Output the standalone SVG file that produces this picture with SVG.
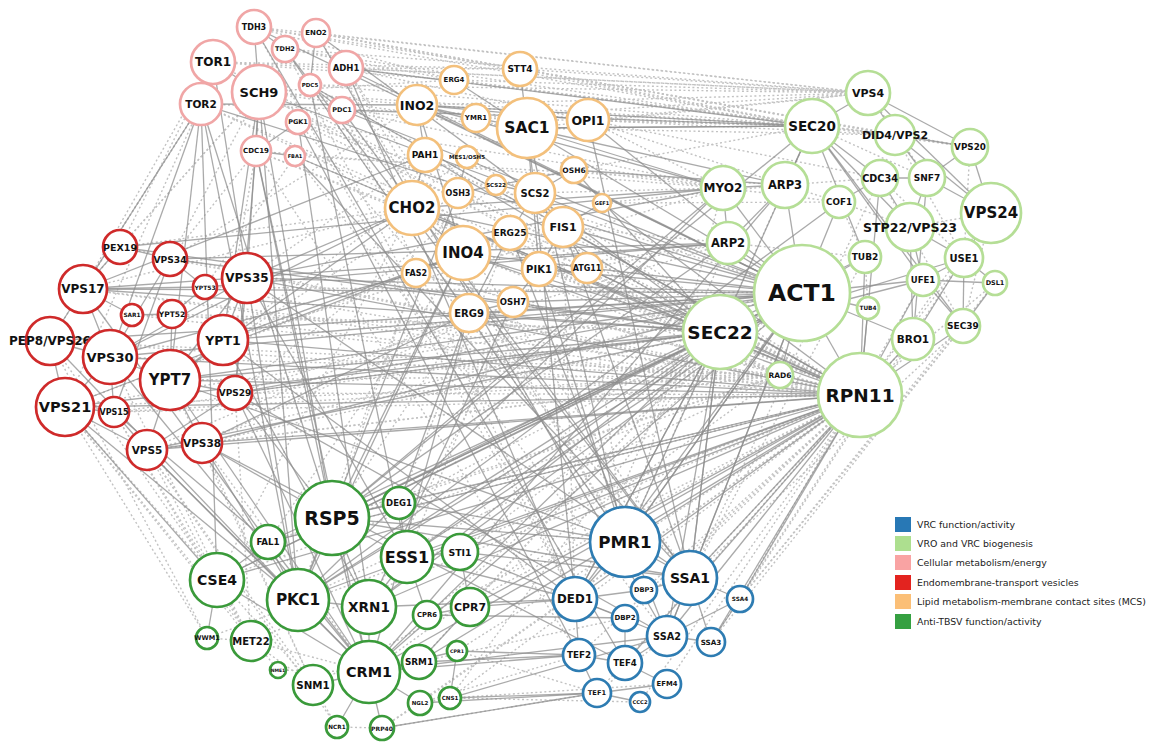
<svg xmlns="http://www.w3.org/2000/svg" width="1156" height="747" viewBox="0 0 1156 747">
<style>
.bg{fill:#fff}
.nodes circle{fill:#fff;stroke-width:2.7}
.pk circle{stroke:#f0a6a6}
.or circle{stroke:#f3c07c}
.lg circle{stroke:#b5de96}
.rd circle{stroke:#cf2a2a}
.gn circle{stroke:#3a9a3a}
.bl circle{stroke:#2e7cb2}
.nodes text{font-family:"DejaVu Sans",Verdana,sans-serif;font-weight:bold;fill:#111;text-anchor:middle;dominant-baseline:central}
.s line{stroke:#8e8e8e;stroke-width:1.3;stroke-opacity:.75}
.d line{stroke:#c2c2c2;stroke-width:1.4;stroke-dasharray:2 2.5}
.legend text{font-family:"DejaVu Sans",Verdana,sans-serif;font-size:9.4px;fill:#222;dominant-baseline:central}
</style>
<rect class="bg" width="1156" height="747"/>
<g id="connectors">
<g class="d">
<line x1="254" y1="27" x2="868" y2="93"/><line x1="316" y1="33" x2="868" y2="93"/><line x1="316" y1="33" x2="812" y2="126"/><line x1="285" y1="49" x2="812" y2="126"/><line x1="346" y1="68" x2="868" y2="93"/><line x1="346" y1="68" x2="895" y2="135"/><line x1="310" y1="85" x2="812" y2="126"/><line x1="342" y1="110" x2="723" y2="188"/><line x1="454" y1="80" x2="868" y2="93"/><line x1="520" y1="69" x2="868" y2="93"/><line x1="520" y1="69" x2="812" y2="126"/><line x1="520" y1="69" x2="895" y2="135"/><line x1="417" y1="105" x2="812" y2="126"/><line x1="588" y1="120" x2="812" y2="126"/><line x1="588" y1="120" x2="868" y2="93"/><line x1="476" y1="118" x2="868" y2="93"/><line x1="527" y1="128" x2="868" y2="93"/><line x1="527" y1="128" x2="895" y2="135"/><line x1="213" y1="62" x2="868" y2="93"/><line x1="254" y1="27" x2="812" y2="126"/><line x1="454" y1="80" x2="895" y2="135"/><line x1="316" y1="33" x2="895" y2="135"/><line x1="254" y1="27" x2="520" y2="69"/><line x1="213" y1="62" x2="520" y2="69"/><line x1="316" y1="33" x2="520" y2="69"/><line x1="285" y1="49" x2="454" y2="80"/><line x1="346" y1="68" x2="588" y2="120"/><line x1="213" y1="62" x2="454" y2="80"/><line x1="254" y1="27" x2="454" y2="80"/><line x1="346" y1="68" x2="520" y2="69"/><line x1="259" y1="92" x2="417" y2="105"/><line x1="259" y1="92" x2="527" y2="128"/><line x1="342" y1="110" x2="527" y2="128"/><line x1="520" y1="69" x2="970" y2="147"/><line x1="588" y1="120" x2="880" y2="178"/><line x1="588" y1="120" x2="895" y2="135"/><line x1="454" y1="80" x2="812" y2="126"/><line x1="476" y1="118" x2="812" y2="126"/><line x1="417" y1="105" x2="868" y2="93"/><line x1="285" y1="49" x2="868" y2="93"/><line x1="310" y1="85" x2="868" y2="93"/><line x1="259" y1="92" x2="812" y2="126"/><line x1="201" y1="104" x2="812" y2="126"/><line x1="298" y1="122" x2="723" y2="188"/><line x1="295" y1="156" x2="785" y2="185"/><line x1="256" y1="151" x2="723" y2="188"/><line x1="574" y1="170" x2="812" y2="126"/><line x1="574" y1="170" x2="723" y2="188"/><line x1="602" y1="203" x2="839" y2="202"/><line x1="602" y1="203" x2="785" y2="185"/><line x1="587" y1="268" x2="728" y2="243"/><line x1="563" y1="227" x2="728" y2="243"/><line x1="539" y1="269" x2="728" y2="243"/><line x1="535" y1="193" x2="723" y2="188"/><line x1="588" y1="120" x2="723" y2="188"/><line x1="588" y1="120" x2="785" y2="185"/>
<line x1="720" y1="332" x2="201" y2="104"/><line x1="720" y1="332" x2="256" y2="151"/><line x1="802" y1="293" x2="298" y2="122"/><line x1="860" y1="395" x2="213" y2="62"/><line x1="860" y1="395" x2="310" y2="85"/><line x1="860" y1="395" x2="295" y2="156"/><line x1="720" y1="332" x2="235" y2="393"/><line x1="860" y1="395" x2="114" y2="412"/><line x1="802" y1="293" x2="65" y2="407"/><line x1="720" y1="332" x2="132" y2="315"/><line x1="720" y1="332" x2="172" y2="314"/><line x1="802" y1="293" x2="205" y2="287"/><line x1="780" y1="375" x2="170" y2="380"/><line x1="780" y1="375" x2="110" y2="357"/><line x1="780" y1="375" x2="65" y2="407"/><line x1="780" y1="375" x2="83" y2="289"/><line x1="780" y1="375" x2="50" y2="341"/><line x1="780" y1="375" x2="202" y2="443"/><line x1="780" y1="375" x2="147" y2="450"/><line x1="780" y1="375" x2="114" y2="412"/><line x1="780" y1="375" x2="332" y2="518"/><line x1="780" y1="375" x2="298" y2="600"/><line x1="780" y1="375" x2="217" y2="580"/><line x1="780" y1="375" x2="268" y2="542"/><line x1="780" y1="375" x2="369" y2="672"/><line x1="780" y1="375" x2="259" y2="92"/><line x1="780" y1="375" x2="201" y2="104"/><line x1="780" y1="375" x2="412" y2="208"/><line x1="780" y1="375" x2="463" y2="253"/><line x1="780" y1="375" x2="416" y2="273"/><line x1="860" y1="395" x2="416" y2="273"/><line x1="860" y1="395" x2="458" y2="193"/><line x1="860" y1="395" x2="425" y2="155"/><line x1="860" y1="395" x2="467" y2="157"/><line x1="860" y1="395" x2="496" y2="185"/><line x1="860" y1="395" x2="510" y2="233"/><line x1="860" y1="395" x2="539" y2="269"/><line x1="860" y1="395" x2="513" y2="302"/><line x1="860" y1="395" x2="469" y2="313"/><line x1="860" y1="395" x2="256" y2="151"/><line x1="860" y1="395" x2="298" y2="122"/><line x1="860" y1="395" x2="259" y2="92"/><line x1="860" y1="395" x2="83" y2="289"/><line x1="860" y1="395" x2="50" y2="341"/><line x1="860" y1="395" x2="170" y2="259"/><line x1="860" y1="395" x2="120" y2="247"/><line x1="860" y1="395" x2="132" y2="315"/><line x1="860" y1="395" x2="172" y2="314"/><line x1="860" y1="395" x2="205" y2="287"/><line x1="860" y1="395" x2="235" y2="393"/><line x1="860" y1="395" x2="268" y2="542"/><line x1="860" y1="395" x2="251" y2="641"/><line x1="860" y1="395" x2="207" y2="638"/><line x1="860" y1="395" x2="313" y2="685"/><line x1="860" y1="395" x2="399" y2="503"/><line x1="860" y1="395" x2="427" y2="615"/><line x1="860" y1="395" x2="457" y2="651"/><line x1="860" y1="395" x2="450" y2="698"/><line x1="860" y1="395" x2="420" y2="703"/><line x1="860" y1="395" x2="382" y2="728"/><line x1="860" y1="395" x2="597" y2="693"/><line x1="860" y1="395" x2="579" y2="655"/><line x1="860" y1="395" x2="667" y2="684"/><line x1="860" y1="395" x2="640" y2="702"/><line x1="860" y1="395" x2="625" y2="618"/><line x1="860" y1="395" x2="644" y2="590"/>
<line x1="802" y1="293" x2="399" y2="503"/><line x1="802" y1="293" x2="460" y2="552"/><line x1="720" y1="332" x2="419" y2="662"/><line x1="720" y1="332" x2="470" y2="607"/><line x1="720" y1="332" x2="450" y2="698"/><line x1="802" y1="293" x2="427" y2="615"/><line x1="728" y1="243" x2="575" y2="599"/><line x1="723" y1="188" x2="625" y2="542"/><line x1="865" y1="257" x2="690" y2="578"/><line x1="812" y1="126" x2="625" y2="542"/><line x1="880" y1="178" x2="690" y2="578"/><line x1="720" y1="332" x2="202" y2="443"/><line x1="720" y1="332" x2="114" y2="412"/><line x1="802" y1="293" x2="147" y2="450"/><line x1="728" y1="243" x2="235" y2="393"/><line x1="723" y1="188" x2="223" y2="340"/>
<line x1="50" y1="341" x2="217" y2="580"/><line x1="65" y1="407" x2="207" y2="638"/><line x1="65" y1="407" x2="251" y2="641"/><line x1="114" y1="412" x2="217" y2="580"/><line x1="147" y1="450" x2="251" y2="641"/><line x1="147" y1="450" x2="313" y2="685"/><line x1="202" y1="443" x2="369" y2="672"/><line x1="201" y1="104" x2="65" y2="407"/><line x1="201" y1="104" x2="83" y2="289"/><line x1="213" y1="62" x2="120" y2="247"/><line x1="259" y1="92" x2="170" y2="259"/><line x1="256" y1="151" x2="223" y2="340"/><line x1="201" y1="104" x2="50" y2="341"/><line x1="65" y1="407" x2="278" y2="670"/><line x1="147" y1="450" x2="337" y2="727"/><line x1="65" y1="407" x2="313" y2="685"/><line x1="50" y1="341" x2="207" y2="638"/><line x1="114" y1="412" x2="251" y2="641"/><line x1="110" y1="357" x2="251" y2="641"/><line x1="170" y1="380" x2="313" y2="685"/><line x1="202" y1="443" x2="313" y2="685"/><line x1="235" y1="393" x2="251" y2="641"/><line x1="213" y1="62" x2="83" y2="289"/><line x1="259" y1="92" x2="120" y2="247"/><line x1="259" y1="92" x2="83" y2="289"/><line x1="256" y1="151" x2="170" y2="259"/><line x1="295" y1="156" x2="205" y2="287"/>
<line x1="251" y1="641" x2="313" y2="685"/><line x1="278" y1="670" x2="369" y2="672"/><line x1="337" y1="727" x2="313" y2="685"/><line x1="382" y1="728" x2="420" y2="703"/><line x1="207" y1="638" x2="251" y2="641"/><line x1="251" y1="641" x2="369" y2="672"/><line x1="420" y1="703" x2="450" y2="698"/><line x1="382" y1="728" x2="597" y2="693"/><line x1="337" y1="727" x2="382" y2="728"/><line x1="450" y1="698" x2="640" y2="702"/><line x1="457" y1="651" x2="597" y2="693"/><line x1="419" y1="662" x2="625" y2="618"/><line x1="420" y1="703" x2="579" y2="655"/><line x1="450" y1="698" x2="667" y2="684"/><line x1="597" y1="693" x2="667" y2="636"/>
<line x1="963" y1="326" x2="740" y2="599"/><line x1="913" y1="339" x2="740" y2="599"/><line x1="964" y1="258" x2="711" y2="642"/><line x1="995" y1="283" x2="740" y2="599"/><line x1="963" y1="326" x2="711" y2="642"/><line x1="913" y1="339" x2="690" y2="578"/><line x1="923" y1="280" x2="740" y2="599"/><line x1="963" y1="326" x2="690" y2="578"/><line x1="991" y1="213" x2="860" y2="395"/><line x1="991" y1="213" x2="963" y2="326"/><line x1="964" y1="258" x2="860" y2="395"/><line x1="995" y1="283" x2="860" y2="395"/><line x1="970" y1="147" x2="964" y2="258"/><line x1="895" y1="135" x2="964" y2="258"/><line x1="868" y1="93" x2="927" y2="178"/><line x1="812" y1="126" x2="927" y2="178"/><line x1="812" y1="126" x2="895" y2="135"/><line x1="812" y1="126" x2="970" y2="147"/><line x1="785" y1="185" x2="880" y2="178"/><line x1="785" y1="185" x2="839" y2="202"/><line x1="723" y1="188" x2="839" y2="202"/><line x1="728" y1="243" x2="865" y2="257"/><line x1="839" y1="202" x2="865" y2="257"/><line x1="865" y1="257" x2="868" y2="308"/><line x1="880" y1="178" x2="964" y2="258"/><line x1="839" y1="202" x2="910" y2="227"/><line x1="910" y1="227" x2="991" y2="213"/><line x1="880" y1="178" x2="963" y2="326"/>
<line x1="310" y1="85" x2="625" y2="542"/><line x1="342" y1="110" x2="575" y2="599"/><line x1="298" y1="122" x2="690" y2="578"/><line x1="295" y1="156" x2="667" y2="636"/><line x1="256" y1="151" x2="579" y2="655"/><line x1="316" y1="33" x2="625" y2="542"/><line x1="346" y1="68" x2="625" y2="542"/><line x1="285" y1="49" x2="575" y2="599"/><line x1="254" y1="27" x2="575" y2="599"/><line x1="346" y1="68" x2="690" y2="578"/>
<line x1="412" y1="208" x2="217" y2="580"/><line x1="463" y1="253" x2="268" y2="542"/><line x1="416" y1="273" x2="298" y2="600"/><line x1="416" y1="273" x2="332" y2="518"/><line x1="469" y1="313" x2="332" y2="518"/><line x1="513" y1="302" x2="407" y2="557"/><line x1="539" y1="269" x2="369" y2="607"/><line x1="587" y1="268" x2="625" y2="542"/><line x1="510" y1="233" x2="399" y2="503"/><line x1="563" y1="227" x2="575" y2="599"/><line x1="458" y1="193" x2="170" y2="380"/><line x1="425" y1="155" x2="247" y2="278"/><line x1="467" y1="157" x2="223" y2="340"/><line x1="496" y1="185" x2="235" y2="393"/><line x1="417" y1="105" x2="170" y2="259"/><line x1="454" y1="80" x2="259" y2="92"/><line x1="412" y1="208" x2="120" y2="247"/><line x1="412" y1="208" x2="83" y2="289"/><line x1="416" y1="273" x2="65" y2="407"/><line x1="469" y1="313" x2="147" y2="450"/><line x1="513" y1="302" x2="202" y2="443"/>
</g>
<g class="s">
<line x1="860" y1="395" x2="170" y2="380"/><line x1="860" y1="395" x2="110" y2="357"/><line x1="860" y1="395" x2="65" y2="407"/><line x1="860" y1="395" x2="147" y2="450"/><line x1="860" y1="395" x2="202" y2="443"/><line x1="860" y1="395" x2="332" y2="518"/><line x1="860" y1="395" x2="298" y2="600"/><line x1="860" y1="395" x2="369" y2="672"/><line x1="860" y1="395" x2="369" y2="607"/><line x1="860" y1="395" x2="407" y2="557"/><line x1="860" y1="395" x2="470" y2="607"/><line x1="860" y1="395" x2="460" y2="552"/><line x1="860" y1="395" x2="625" y2="542"/><line x1="860" y1="395" x2="690" y2="578"/><line x1="860" y1="395" x2="667" y2="636"/><line x1="860" y1="395" x2="740" y2="599"/><line x1="860" y1="395" x2="575" y2="599"/><line x1="860" y1="395" x2="625" y2="663"/><line x1="860" y1="395" x2="412" y2="208"/><line x1="860" y1="395" x2="463" y2="253"/><line x1="860" y1="395" x2="563" y2="227"/><line x1="860" y1="395" x2="247" y2="278"/><line x1="860" y1="395" x2="223" y2="340"/><line x1="860" y1="395" x2="217" y2="580"/><line x1="860" y1="395" x2="419" y2="662"/><line x1="860" y1="395" x2="268" y2="542"/>
<line x1="802" y1="293" x2="170" y2="380"/><line x1="802" y1="293" x2="110" y2="357"/><line x1="802" y1="293" x2="83" y2="289"/><line x1="802" y1="293" x2="50" y2="341"/><line x1="802" y1="293" x2="247" y2="278"/><line x1="802" y1="293" x2="223" y2="340"/><line x1="802" y1="293" x2="332" y2="518"/><line x1="802" y1="293" x2="298" y2="600"/><line x1="802" y1="293" x2="217" y2="580"/><line x1="802" y1="293" x2="369" y2="672"/><line x1="802" y1="293" x2="625" y2="542"/><line x1="802" y1="293" x2="575" y2="599"/><line x1="802" y1="293" x2="690" y2="578"/><line x1="802" y1="293" x2="527" y2="128"/><line x1="802" y1="293" x2="412" y2="208"/><line x1="802" y1="293" x2="463" y2="253"/><line x1="802" y1="293" x2="417" y2="105"/><line x1="802" y1="293" x2="588" y2="120"/><line x1="802" y1="293" x2="563" y2="227"/><line x1="802" y1="293" x2="469" y2="313"/><line x1="802" y1="293" x2="513" y2="302"/><line x1="802" y1="293" x2="201" y2="104"/><line x1="802" y1="293" x2="259" y2="92"/><line x1="802" y1="293" x2="723" y2="188"/><line x1="802" y1="293" x2="728" y2="243"/><line x1="802" y1="293" x2="785" y2="185"/><line x1="802" y1="293" x2="839" y2="202"/><line x1="802" y1="293" x2="865" y2="257"/><line x1="802" y1="293" x2="923" y2="280"/><line x1="802" y1="293" x2="868" y2="308"/><line x1="802" y1="293" x2="720" y2="332"/><line x1="802" y1="293" x2="780" y2="375"/><line x1="802" y1="293" x2="539" y2="269"/><line x1="802" y1="293" x2="235" y2="393"/><line x1="802" y1="293" x2="860" y2="395"/><line x1="802" y1="293" x2="913" y2="339"/><line x1="802" y1="293" x2="202" y2="443"/><line x1="802" y1="293" x2="369" y2="607"/><line x1="802" y1="293" x2="407" y2="557"/>
<line x1="720" y1="332" x2="83" y2="289"/><line x1="720" y1="332" x2="120" y2="247"/><line x1="720" y1="332" x2="170" y2="259"/><line x1="720" y1="332" x2="65" y2="407"/><line x1="720" y1="332" x2="170" y2="380"/><line x1="720" y1="332" x2="332" y2="518"/><line x1="720" y1="332" x2="298" y2="600"/><line x1="720" y1="332" x2="268" y2="542"/><line x1="720" y1="332" x2="217" y2="580"/><line x1="720" y1="332" x2="369" y2="607"/><line x1="720" y1="332" x2="407" y2="557"/><line x1="720" y1="332" x2="625" y2="542"/><line x1="720" y1="332" x2="575" y2="599"/><line x1="720" y1="332" x2="463" y2="253"/><line x1="720" y1="332" x2="412" y2="208"/><line x1="720" y1="332" x2="425" y2="155"/><line x1="720" y1="332" x2="812" y2="126"/><line x1="720" y1="332" x2="923" y2="280"/><line x1="720" y1="332" x2="964" y2="258"/><line x1="720" y1="332" x2="469" y2="313"/><line x1="720" y1="332" x2="667" y2="636"/><line x1="720" y1="332" x2="147" y2="450"/><line x1="720" y1="332" x2="860" y2="395"/><line x1="720" y1="332" x2="690" y2="578"/><line x1="720" y1="332" x2="369" y2="672"/><line x1="720" y1="332" x2="235" y2="393"/>
<line x1="723" y1="188" x2="120" y2="247"/><line x1="723" y1="188" x2="247" y2="278"/><line x1="723" y1="188" x2="527" y2="128"/><line x1="723" y1="188" x2="417" y2="105"/><line x1="723" y1="188" x2="785" y2="185"/><line x1="723" y1="188" x2="728" y2="243"/><line x1="723" y1="188" x2="412" y2="208"/><line x1="723" y1="188" x2="332" y2="518"/><line x1="723" y1="188" x2="298" y2="600"/><line x1="728" y1="243" x2="170" y2="259"/><line x1="728" y1="243" x2="205" y2="287"/><line x1="728" y1="243" x2="785" y2="185"/><line x1="728" y1="243" x2="83" y2="289"/><line x1="728" y1="243" x2="332" y2="518"/><line x1="785" y1="185" x2="812" y2="126"/><line x1="785" y1="185" x2="527" y2="128"/><line x1="785" y1="185" x2="369" y2="672"/><line x1="839" y1="202" x2="298" y2="600"/><line x1="865" y1="257" x2="332" y2="518"/>
<line x1="812" y1="126" x2="342" y2="110"/><line x1="812" y1="126" x2="880" y2="178"/><line x1="812" y1="126" x2="923" y2="280"/><line x1="812" y1="126" x2="527" y2="128"/><line x1="812" y1="126" x2="417" y2="105"/><line x1="812" y1="126" x2="868" y2="93"/><line x1="812" y1="126" x2="865" y2="257"/><line x1="812" y1="126" x2="963" y2="326"/><line x1="812" y1="126" x2="910" y2="227"/><line x1="812" y1="126" x2="332" y2="518"/><line x1="839" y1="202" x2="880" y2="178"/>
<line x1="868" y1="93" x2="895" y2="135"/><line x1="868" y1="93" x2="991" y2="213"/><line x1="868" y1="93" x2="970" y2="147"/><line x1="895" y1="135" x2="970" y2="147"/><line x1="895" y1="135" x2="927" y2="178"/><line x1="895" y1="135" x2="991" y2="213"/><line x1="970" y1="147" x2="991" y2="213"/><line x1="970" y1="147" x2="927" y2="178"/><line x1="927" y1="178" x2="991" y2="213"/><line x1="927" y1="178" x2="910" y2="227"/><line x1="927" y1="178" x2="880" y2="178"/><line x1="880" y1="178" x2="910" y2="227"/><line x1="910" y1="227" x2="964" y2="258"/><line x1="910" y1="227" x2="923" y2="280"/><line x1="964" y1="258" x2="995" y2="283"/><line x1="923" y1="280" x2="995" y2="283"/><line x1="923" y1="280" x2="963" y2="326"/><line x1="964" y1="258" x2="963" y2="326"/><line x1="995" y1="283" x2="963" y2="326"/><line x1="923" y1="280" x2="964" y2="258"/><line x1="913" y1="339" x2="927" y2="178"/><line x1="913" y1="339" x2="860" y2="395"/><line x1="910" y1="227" x2="913" y2="339"/><line x1="991" y1="213" x2="913" y2="339"/><line x1="880" y1="178" x2="860" y2="395"/><line x1="865" y1="257" x2="860" y2="395"/><line x1="868" y1="308" x2="860" y2="395"/><line x1="780" y1="375" x2="860" y2="395"/><line x1="923" y1="280" x2="860" y2="395"/><line x1="963" y1="326" x2="860" y2="395"/>
<line x1="201" y1="104" x2="298" y2="600"/><line x1="201" y1="104" x2="332" y2="518"/><line x1="201" y1="104" x2="217" y2="580"/><line x1="213" y1="62" x2="298" y2="600"/><line x1="213" y1="62" x2="201" y2="104"/><line x1="213" y1="62" x2="259" y2="92"/><line x1="259" y1="92" x2="298" y2="600"/><line x1="259" y1="92" x2="332" y2="518"/><line x1="259" y1="92" x2="254" y2="27"/><line x1="259" y1="92" x2="256" y2="151"/><line x1="256" y1="151" x2="332" y2="518"/><line x1="256" y1="151" x2="369" y2="672"/><line x1="298" y1="122" x2="369" y2="607"/><line x1="298" y1="122" x2="256" y2="151"/><line x1="310" y1="85" x2="407" y2="557"/><line x1="310" y1="85" x2="342" y2="110"/><line x1="316" y1="33" x2="310" y2="85"/><line x1="342" y1="110" x2="690" y2="578"/><line x1="295" y1="156" x2="690" y2="578"/><line x1="295" y1="156" x2="256" y2="151"/><line x1="316" y1="33" x2="667" y2="636"/><line x1="254" y1="27" x2="625" y2="663"/><line x1="346" y1="68" x2="575" y2="599"/><line x1="285" y1="49" x2="625" y2="542"/><line x1="254" y1="27" x2="285" y2="49"/><line x1="201" y1="104" x2="83" y2="289"/><line x1="201" y1="104" x2="110" y2="357"/><line x1="259" y1="92" x2="247" y2="278"/><line x1="259" y1="92" x2="223" y2="340"/><line x1="256" y1="151" x2="235" y2="393"/><line x1="201" y1="104" x2="170" y2="380"/><line x1="298" y1="122" x2="579" y2="655"/><line x1="346" y1="68" x2="812" y2="126"/><line x1="346" y1="68" x2="802" y2="293"/><line x1="342" y1="110" x2="802" y2="293"/><line x1="310" y1="85" x2="860" y2="395"/><line x1="285" y1="49" x2="690" y2="578"/><line x1="316" y1="33" x2="720" y2="332"/><line x1="295" y1="156" x2="860" y2="395"/><line x1="254" y1="27" x2="802" y2="293"/>
<line x1="527" y1="128" x2="520" y2="69"/><line x1="527" y1="128" x2="476" y2="118"/><line x1="527" y1="128" x2="535" y2="193"/><line x1="535" y1="193" x2="574" y2="170"/><line x1="535" y1="193" x2="496" y2="185"/><line x1="535" y1="193" x2="563" y2="227"/><line x1="412" y1="208" x2="463" y2="253"/><line x1="417" y1="105" x2="463" y2="253"/><line x1="417" y1="105" x2="425" y2="155"/><line x1="588" y1="120" x2="417" y2="105"/><line x1="469" y1="313" x2="513" y2="302"/><line x1="510" y1="233" x2="469" y2="313"/><line x1="539" y1="269" x2="563" y2="227"/><line x1="563" y1="227" x2="587" y2="268"/><line x1="539" y1="269" x2="527" y2="128"/><line x1="458" y1="193" x2="574" y2="170"/><line x1="425" y1="155" x2="412" y2="208"/><line x1="454" y1="80" x2="527" y2="128"/><line x1="476" y1="118" x2="417" y2="105"/><line x1="467" y1="157" x2="458" y2="193"/><line x1="416" y1="273" x2="463" y2="253"/><line x1="513" y1="302" x2="539" y2="269"/><line x1="510" y1="233" x2="535" y2="193"/><line x1="602" y1="203" x2="563" y2="227"/>
<line x1="412" y1="208" x2="247" y2="278"/><line x1="412" y1="208" x2="170" y2="380"/><line x1="463" y1="253" x2="332" y2="518"/><line x1="463" y1="253" x2="298" y2="600"/><line x1="416" y1="273" x2="110" y2="357"/><line x1="469" y1="313" x2="369" y2="672"/><line x1="513" y1="302" x2="369" y2="607"/><line x1="425" y1="155" x2="83" y2="289"/><line x1="527" y1="128" x2="625" y2="542"/><line x1="588" y1="120" x2="690" y2="578"/><line x1="535" y1="193" x2="575" y2="599"/><line x1="563" y1="227" x2="690" y2="578"/><line x1="587" y1="268" x2="720" y2="332"/><line x1="602" y1="203" x2="860" y2="395"/><line x1="574" y1="170" x2="785" y2="185"/><line x1="527" y1="128" x2="812" y2="126"/><line x1="469" y1="313" x2="202" y2="443"/><line x1="463" y1="253" x2="223" y2="340"/><line x1="412" y1="208" x2="110" y2="357"/><line x1="539" y1="269" x2="625" y2="542"/><line x1="587" y1="268" x2="860" y2="395"/><line x1="574" y1="170" x2="720" y2="332"/><line x1="417" y1="105" x2="201" y2="104"/><line x1="463" y1="253" x2="65" y2="407"/><line x1="510" y1="233" x2="667" y2="636"/><line x1="458" y1="193" x2="298" y2="600"/><line x1="469" y1="313" x2="399" y2="503"/>
<line x1="83" y1="289" x2="110" y2="357"/><line x1="83" y1="289" x2="50" y2="341"/><line x1="50" y1="341" x2="110" y2="357"/><line x1="110" y1="357" x2="170" y2="380"/><line x1="110" y1="357" x2="114" y2="412"/><line x1="114" y1="412" x2="65" y2="407"/><line x1="65" y1="407" x2="147" y2="450"/><line x1="147" y1="450" x2="170" y2="380"/><line x1="202" y1="443" x2="170" y2="380"/><line x1="235" y1="393" x2="170" y2="380"/><line x1="235" y1="393" x2="247" y2="278"/><line x1="247" y1="278" x2="170" y2="380"/><line x1="223" y1="340" x2="247" y2="278"/><line x1="170" y1="259" x2="114" y2="412"/><line x1="170" y1="259" x2="110" y2="357"/><line x1="132" y1="315" x2="83" y2="289"/><line x1="132" y1="315" x2="172" y2="314"/><line x1="172" y1="314" x2="205" y2="287"/><line x1="205" y1="287" x2="170" y2="259"/><line x1="120" y1="247" x2="83" y2="289"/><line x1="83" y1="289" x2="205" y2="287"/><line x1="147" y1="450" x2="235" y2="393"/><line x1="202" y1="443" x2="147" y2="450"/><line x1="50" y1="341" x2="65" y2="407"/><line x1="110" y1="357" x2="65" y2="407"/><line x1="223" y1="340" x2="170" y2="380"/><line x1="120" y1="247" x2="170" y2="259"/><line x1="114" y1="412" x2="147" y2="450"/><line x1="172" y1="314" x2="170" y2="380"/><line x1="247" y1="278" x2="110" y2="357"/>
<line x1="65" y1="407" x2="217" y2="580"/><line x1="147" y1="450" x2="298" y2="600"/><line x1="202" y1="443" x2="298" y2="600"/><line x1="202" y1="443" x2="332" y2="518"/><line x1="235" y1="393" x2="332" y2="518"/><line x1="170" y1="380" x2="369" y2="672"/><line x1="114" y1="412" x2="268" y2="542"/><line x1="65" y1="407" x2="298" y2="600"/><line x1="223" y1="340" x2="369" y2="607"/><line x1="247" y1="278" x2="407" y2="557"/><line x1="110" y1="357" x2="369" y2="672"/><line x1="83" y1="289" x2="268" y2="542"/><line x1="50" y1="341" x2="298" y2="600"/><line x1="147" y1="450" x2="369" y2="672"/><line x1="235" y1="393" x2="369" y2="672"/>
<line x1="170" y1="380" x2="625" y2="542"/><line x1="247" y1="278" x2="690" y2="578"/><line x1="223" y1="340" x2="575" y2="599"/><line x1="202" y1="443" x2="625" y2="663"/><line x1="235" y1="393" x2="667" y2="636"/>
<line x1="332" y1="518" x2="399" y2="503"/><line x1="332" y1="518" x2="298" y2="600"/><line x1="332" y1="518" x2="407" y2="557"/><line x1="298" y1="600" x2="369" y2="672"/><line x1="369" y1="607" x2="369" y2="672"/><line x1="407" y1="557" x2="427" y2="615"/><line x1="427" y1="615" x2="470" y2="607"/><line x1="470" y1="607" x2="460" y2="552"/><line x1="369" y1="672" x2="419" y2="662"/><line x1="369" y1="672" x2="313" y2="685"/><line x1="369" y1="672" x2="382" y2="728"/><line x1="457" y1="651" x2="450" y2="698"/><line x1="217" y1="580" x2="207" y2="638"/><line x1="298" y1="600" x2="268" y2="542"/><line x1="268" y1="542" x2="217" y2="580"/><line x1="369" y1="672" x2="420" y2="703"/><line x1="369" y1="672" x2="457" y2="651"/><line x1="419" y1="662" x2="470" y2="607"/><line x1="369" y1="607" x2="407" y2="557"/><line x1="407" y1="557" x2="460" y2="552"/><line x1="399" y1="503" x2="407" y2="557"/><line x1="337" y1="727" x2="369" y2="672"/><line x1="332" y1="518" x2="369" y2="607"/><line x1="332" y1="518" x2="369" y2="672"/><line x1="217" y1="580" x2="369" y2="672"/><line x1="268" y1="542" x2="369" y2="672"/><line x1="298" y1="600" x2="369" y2="607"/>
<line x1="470" y1="607" x2="575" y2="599"/><line x1="460" y1="552" x2="690" y2="578"/><line x1="460" y1="552" x2="667" y2="636"/><line x1="369" y1="672" x2="579" y2="655"/><line x1="450" y1="698" x2="597" y2="693"/><line x1="427" y1="615" x2="625" y2="618"/><line x1="419" y1="662" x2="579" y2="655"/><line x1="369" y1="607" x2="575" y2="599"/><line x1="407" y1="557" x2="575" y2="599"/><line x1="450" y1="698" x2="667" y2="636"/><line x1="457" y1="651" x2="579" y2="655"/><line x1="399" y1="503" x2="625" y2="542"/><line x1="332" y1="518" x2="625" y2="542"/><line x1="332" y1="518" x2="690" y2="578"/><line x1="420" y1="703" x2="597" y2="693"/><line x1="382" y1="728" x2="597" y2="693"/><line x1="369" y1="672" x2="667" y2="636"/>
<line x1="690" y1="578" x2="667" y2="636"/><line x1="690" y1="578" x2="711" y2="642"/><line x1="690" y1="578" x2="740" y2="599"/><line x1="711" y1="642" x2="740" y2="599"/><line x1="667" y1="636" x2="711" y2="642"/><line x1="579" y1="655" x2="625" y2="663"/><line x1="597" y1="693" x2="579" y2="655"/><line x1="597" y1="693" x2="667" y2="684"/><line x1="625" y1="663" x2="667" y2="684"/><line x1="575" y1="599" x2="644" y2="590"/><line x1="644" y1="590" x2="690" y2="578"/><line x1="625" y1="618" x2="575" y2="599"/><line x1="579" y1="655" x2="575" y2="599"/><line x1="625" y1="542" x2="575" y2="599"/><line x1="625" y1="542" x2="690" y2="578"/><line x1="667" y1="636" x2="625" y2="663"/><line x1="597" y1="693" x2="640" y2="702"/><line x1="740" y1="599" x2="667" y2="636"/><line x1="625" y1="663" x2="625" y2="618"/>
<line x1="711" y1="642" x2="860" y2="395"/><line x1="667" y1="636" x2="802" y2="293"/><line x1="690" y1="578" x2="720" y2="332"/><line x1="575" y1="599" x2="720" y2="332"/><line x1="625" y1="542" x2="802" y2="293"/>
</g>
</g>
<g class="nodes">
<g id="TDH3" class="pk"><circle cx="254" cy="27" r="17"/><text x="254" y="27" font-size="8">TDH3</text></g>
<g id="ENO2" class="pk"><circle cx="316" cy="33" r="14"/><text x="316" y="33" font-size="7">ENO2</text></g>
<g id="TDH2" class="pk"><circle cx="285" cy="49" r="13"/><text x="285" y="49" font-size="6.5">TDH2</text></g>
<g id="TOR1" class="pk"><circle cx="213" cy="62" r="22"/><text x="213" y="62" font-size="12">TOR1</text></g>
<g id="ADH1" class="pk"><circle cx="346" cy="68" r="17"/><text x="346" y="68" font-size="8.5">ADH1</text></g>
<g id="SCH9" class="pk"><circle cx="259" cy="92" r="27"/><text x="259" y="92" font-size="13">SCH9</text></g>
<g id="PDC5" class="pk"><circle cx="310" cy="85" r="11"/><text x="310" y="85" font-size="5.5">PDC5</text></g>
<g id="TOR2" class="pk"><circle cx="201" cy="104" r="21"/><text x="201" y="104" font-size="10.5">TOR2</text></g>
<g id="PDC1" class="pk"><circle cx="342" cy="110" r="13"/><text x="342" y="110" font-size="6.5">PDC1</text></g>
<g id="PGK1" class="pk"><circle cx="298" cy="122" r="12"/><text x="298" y="122" font-size="6.5">PGK1</text></g>
<g id="CDC19" class="pk"><circle cx="256" cy="151" r="15"/><text x="256" y="151" font-size="7">CDC19</text></g>
<g id="FBA1" class="pk"><circle cx="295" cy="156" r="10"/><text x="295" y="156" font-size="5">FBA1</text></g>
<g id="STT4" class="or"><circle cx="520" cy="69" r="17"/><text x="520" y="69" font-size="9">STT4</text></g>
<g id="ERG4" class="or"><circle cx="454" cy="80" r="14"/><text x="454" y="80" font-size="7">ERG4</text></g>
<g id="INO2" class="or"><circle cx="417" cy="105" r="20"/><text x="417" y="105" font-size="12.5">INO2</text></g>
<g id="YMR1" class="or"><circle cx="476" cy="118" r="14"/><text x="476" y="118" font-size="7">YMR1</text></g>
<g id="SAC1" class="or"><circle cx="527" cy="128" r="30"/><text x="527" y="128" font-size="15.5">SAC1</text></g>
<g id="OPI1" class="or"><circle cx="588" cy="120" r="21"/><text x="588" y="120" font-size="12.5">OPI1</text></g>
<g id="PAH1" class="or"><circle cx="425" cy="155" r="17"/><text x="425" y="155" font-size="9">PAH1</text></g>
<g id="MES1-OSH5" class="or"><circle cx="467" cy="157" r="11"/><text x="467" y="157" font-size="5.5">MES1/OSH5</text></g>
<g id="OSH6" class="or"><circle cx="574" cy="170" r="13"/><text x="574" y="170" font-size="7.5">OSH6</text></g>
<g id="SCS22" class="or"><circle cx="496" cy="185" r="10"/><text x="496" y="185" font-size="5.5">SCS22</text></g>
<g id="OSH3" class="or"><circle cx="458" cy="193" r="15"/><text x="458" y="193" font-size="8">OSH3</text></g>
<g id="SCS2" class="or"><circle cx="535" cy="193" r="20"/><text x="535" y="193" font-size="10">SCS2</text></g>
<g id="CHO2" class="or"><circle cx="412" cy="208" r="27"/><text x="412" y="208" font-size="15">CHO2</text></g>
<g id="GEF1" class="or"><circle cx="602" cy="203" r="9"/><text x="602" y="203" font-size="5">GEF1</text></g>
<g id="FIS1" class="or"><circle cx="563" cy="227" r="20"/><text x="563" y="227" font-size="11">FIS1</text></g>
<g id="ERG25" class="or"><circle cx="510" cy="233" r="17"/><text x="510" y="233" font-size="9">ERG25</text></g>
<g id="INO4" class="or"><circle cx="463" cy="253" r="27"/><text x="463" y="253" font-size="15">INO4</text></g>
<g id="FAS2" class="or"><circle cx="416" cy="273" r="14"/><text x="416" y="273" font-size="8">FAS2</text></g>
<g id="PIK1" class="or"><circle cx="539" cy="269" r="17"/><text x="539" y="269" font-size="10">PIK1</text></g>
<g id="ATG11" class="or"><circle cx="587" cy="268" r="15"/><text x="587" y="268" font-size="8">ATG11</text></g>
<g id="OSH7" class="or"><circle cx="513" cy="302" r="15"/><text x="513" y="302" font-size="8.5">OSH7</text></g>
<g id="ERG9" class="or"><circle cx="469" cy="313" r="19"/><text x="469" y="313" font-size="10">ERG9</text></g>
<g id="VPS4" class="lg"><circle cx="868" cy="93" r="22"/><text x="868" y="93" font-size="11">VPS4</text></g>
<g id="SEC20" class="lg"><circle cx="812" cy="126" r="27"/><text x="812" y="126" font-size="13.5">SEC20</text></g>
<g id="DID4-VPS2" class="lg"><circle cx="895" cy="135" r="20"/><text x="895" y="135" font-size="11">DID4/VPS2</text></g>
<g id="VPS20" class="lg"><circle cx="970" cy="147" r="18"/><text x="970" y="147" font-size="8.8">VPS20</text></g>
<g id="MYO2" class="lg"><circle cx="723" cy="188" r="22"/><text x="723" y="188" font-size="12">MYO2</text></g>
<g id="ARP3" class="lg"><circle cx="785" cy="185" r="23"/><text x="785" y="185" font-size="11.5">ARP3</text></g>
<g id="CDC34" class="lg"><circle cx="880" cy="178" r="18"/><text x="880" y="178" font-size="9.7">CDC34</text></g>
<g id="SNF7" class="lg"><circle cx="927" cy="178" r="18"/><text x="927" y="178" font-size="9">SNF7</text></g>
<g id="COF1" class="lg"><circle cx="839" cy="202" r="16"/><text x="839" y="202" font-size="8.8">COF1</text></g>
<g id="VPS24" class="lg"><circle cx="991" cy="213" r="30"/><text x="991" y="213" font-size="15">VPS24</text></g>
<g id="STP22-VPS23" class="lg"><circle cx="910" cy="227" r="24"/><text x="910" y="227" font-size="12.5">STP22/VPS23</text></g>
<g id="ARP2" class="lg"><circle cx="728" cy="243" r="21"/><text x="728" y="243" font-size="11.5">ARP2</text></g>
<g id="TUB2" class="lg"><circle cx="865" cy="257" r="16"/><text x="865" y="257" font-size="9">TUB2</text></g>
<g id="USE1" class="lg"><circle cx="964" cy="258" r="19"/><text x="964" y="258" font-size="10">USE1</text></g>
<g id="ACT1" class="lg"><circle cx="802" cy="293" r="48"/><text x="802" y="293" font-size="23.5">ACT1</text></g>
<g id="UFE1" class="lg"><circle cx="923" cy="280" r="16"/><text x="923" y="280" font-size="8.5">UFE1</text></g>
<g id="DSL1" class="lg"><circle cx="995" cy="283" r="12"/><text x="995" y="283" font-size="6.5">DSL1</text></g>
<g id="TUB4" class="lg"><circle cx="868" cy="308" r="11"/><text x="868" y="308" font-size="5.8">TUB4</text></g>
<g id="SEC22" class="lg"><circle cx="720" cy="332" r="37"/><text x="720" y="332" font-size="18.5">SEC22</text></g>
<g id="SEC39" class="lg"><circle cx="963" cy="326" r="17"/><text x="963" y="326" font-size="9">SEC39</text></g>
<g id="BRO1" class="lg"><circle cx="913" cy="339" r="21"/><text x="913" y="339" font-size="10.5">BRO1</text></g>
<g id="RAD6" class="lg"><circle cx="780" cy="375" r="13"/><text x="780" y="375" font-size="7.5">RAD6</text></g>
<g id="RPN11" class="lg"><circle cx="860" cy="395" r="42"/><text x="860" y="395" font-size="18.5">RPN11</text></g>
<g id="PEX19" class="rd"><circle cx="120" cy="247" r="17"/><text x="120" y="247" font-size="9.5">PEX19</text></g>
<g id="VPS34" class="rd"><circle cx="170" cy="259" r="17"/><text x="170" y="259" font-size="9.2">VPS34</text></g>
<g id="VPS35" class="rd"><circle cx="247" cy="278" r="25"/><text x="247" y="278" font-size="12">VPS35</text></g>
<g id="YPT53" class="rd"><circle cx="205" cy="287" r="12"/><text x="205" y="287" font-size="6">YPT53</text></g>
<g id="VPS17" class="rd"><circle cx="83" cy="289" r="24"/><text x="83" y="289" font-size="12">VPS17</text></g>
<g id="SAR1" class="rd"><circle cx="132" cy="315" r="11"/><text x="132" y="315" font-size="5.8">SAR1</text></g>
<g id="YPT52" class="rd"><circle cx="172" cy="314" r="14"/><text x="172" y="314" font-size="7.5">YPT52</text></g>
<g id="PEP8-VPS26" class="rd"><circle cx="50" cy="341" r="24"/><text x="50" y="341" font-size="12">PEP8/VPS26</text></g>
<g id="YPT1" class="rd"><circle cx="223" cy="340" r="25"/><text x="223" y="340" font-size="12.5">YPT1</text></g>
<g id="VPS30" class="rd"><circle cx="110" cy="357" r="27"/><text x="110" y="357" font-size="13">VPS30</text></g>
<g id="YPT7" class="rd"><circle cx="170" cy="380" r="30"/><text x="170" y="380" font-size="15">YPT7</text></g>
<g id="VPS29" class="rd"><circle cx="235" cy="393" r="17"/><text x="235" y="393" font-size="9">VPS29</text></g>
<g id="VPS21" class="rd"><circle cx="65" cy="407" r="29"/><text x="65" y="407" font-size="14.5">VPS21</text></g>
<g id="VPS15" class="rd"><circle cx="114" cy="412" r="15"/><text x="114" y="412" font-size="8">VPS15</text></g>
<g id="VPS5" class="rd"><circle cx="147" cy="450" r="20"/><text x="147" y="450" font-size="10.5">VPS5</text></g>
<g id="VPS38" class="rd"><circle cx="202" cy="443" r="20"/><text x="202" y="443" font-size="10.5">VPS38</text></g>
<g id="RSP5" class="gn"><circle cx="332" cy="518" r="37"/><text x="332" y="518" font-size="19">RSP5</text></g>
<g id="DEG1" class="gn"><circle cx="399" cy="503" r="16"/><text x="399" y="503" font-size="8.5">DEG1</text></g>
<g id="FAL1" class="gn"><circle cx="268" cy="542" r="17"/><text x="268" y="542" font-size="8.7">FAL1</text></g>
<g id="ESS1" class="gn"><circle cx="407" cy="557" r="26"/><text x="407" y="557" font-size="16">ESS1</text></g>
<g id="STI1" class="gn"><circle cx="460" cy="552" r="18"/><text x="460" y="552" font-size="9.4">STI1</text></g>
<g id="CSE4" class="gn"><circle cx="217" cy="580" r="27"/><text x="217" y="580" font-size="14">CSE4</text></g>
<g id="PKC1" class="gn"><circle cx="298" cy="600" r="31"/><text x="298" y="600" font-size="15.3">PKC1</text></g>
<g id="XRN1" class="gn"><circle cx="369" cy="607" r="27"/><text x="369" y="607" font-size="13.6">XRN1</text></g>
<g id="CPR6" class="gn"><circle cx="427" cy="615" r="14"/><text x="427" y="615" font-size="6.8">CPR6</text></g>
<g id="CPR7" class="gn"><circle cx="470" cy="607" r="19"/><text x="470" y="607" font-size="10.9">CPR7</text></g>
<g id="WWM1" class="gn"><circle cx="207" cy="638" r="11"/><text x="207" y="638" font-size="6.5">WWM1</text></g>
<g id="MET22" class="gn"><circle cx="251" cy="641" r="20"/><text x="251" y="641" font-size="10">MET22</text></g>
<g id="CPR1" class="gn"><circle cx="457" cy="651" r="10"/><text x="457" y="651" font-size="4.8">CPR1</text></g>
<g id="SRM1" class="gn"><circle cx="419" cy="662" r="17"/><text x="419" y="662" font-size="8.9">SRM1</text></g>
<g id="NME1" class="gn"><circle cx="278" cy="670" r="8"/><text x="278" y="670" font-size="4.5">NME1</text></g>
<g id="CRM1" class="gn"><circle cx="369" cy="672" r="31"/><text x="369" y="672" font-size="14.4">CRM1</text></g>
<g id="SNM1" class="gn"><circle cx="313" cy="685" r="20"/><text x="313" y="685" font-size="10.3">SNM1</text></g>
<g id="NGL2" class="gn"><circle cx="420" cy="703" r="12"/><text x="420" y="703" font-size="5.5">NGL2</text></g>
<g id="CNS1" class="gn"><circle cx="450" cy="698" r="11"/><text x="450" y="698" font-size="5.6">CNS1</text></g>
<g id="NCR1" class="gn"><circle cx="337" cy="727" r="11"/><text x="337" y="727" font-size="5.7">NCR1</text></g>
<g id="PRP40" class="gn"><circle cx="382" cy="728" r="12"/><text x="382" y="728" font-size="6">PRP40</text></g>
<g id="PMR1" class="bl"><circle cx="625" cy="542" r="35"/><text x="625" y="542" font-size="16.7">PMR1</text></g>
<g id="SSA1" class="bl"><circle cx="690" cy="578" r="27"/><text x="690" y="578" font-size="14">SSA1</text></g>
<g id="DED1" class="bl"><circle cx="575" cy="599" r="22"/><text x="575" y="599" font-size="11.8">DED1</text></g>
<g id="DBP3" class="bl"><circle cx="644" cy="590" r="13"/><text x="644" y="590" font-size="6.6">DBP3</text></g>
<g id="SSA4" class="bl"><circle cx="740" cy="599" r="13"/><text x="740" y="599" font-size="5.7">SSA4</text></g>
<g id="DBP2" class="bl"><circle cx="625" cy="618" r="13"/><text x="625" y="618" font-size="7">DBP2</text></g>
<g id="SSA2" class="bl"><circle cx="667" cy="636" r="20"/><text x="667" y="636" font-size="9.7">SSA2</text></g>
<g id="SSA3" class="bl"><circle cx="711" cy="642" r="14"/><text x="711" y="642" font-size="7.2">SSA3</text></g>
<g id="TEF2" class="bl"><circle cx="579" cy="655" r="16"/><text x="579" y="655" font-size="8.8">TEF2</text></g>
<g id="TEF4" class="bl"><circle cx="625" cy="663" r="17"/><text x="625" y="663" font-size="8.6">TEF4</text></g>
<g id="TEF1" class="bl"><circle cx="597" cy="693" r="14"/><text x="597" y="693" font-size="6.7">TEF1</text></g>
<g id="EFM4" class="bl"><circle cx="667" cy="684" r="14"/><text x="667" y="684" font-size="6.8">EFM4</text></g>
<g id="CCC2" class="bl"><circle cx="640" cy="702" r="10"/><text x="640" y="702" font-size="5.2">CCC2</text></g>
</g>
<g id="legend" class="legend">
<rect x="895" y="517" width="16" height="15" fill="#2878b5"/><text x="917" y="524.5">VRC function/activity</text>
<rect x="895" y="536" width="16" height="15" fill="#addf8f"/><text x="917" y="543.5">VRO and VRC biogenesis</text>
<rect x="895" y="555" width="16" height="15" fill="#f9a3a3"/><text x="917" y="562.5">Cellular metabolism/energy</text>
<rect x="895" y="575" width="16" height="15" fill="#e3231f"/><text x="917" y="582.5">Endomembrane-transport vesicles</text>
<rect x="895" y="594" width="16" height="15" fill="#fbbf77"/><text x="917" y="601.5">Lipid metabolism-membrane contact sites (MCS)</text>
<rect x="895" y="614" width="16" height="15" fill="#35a041"/><text x="917" y="621.5">Anti-TBSV function/activity</text>
</g>
</svg>
